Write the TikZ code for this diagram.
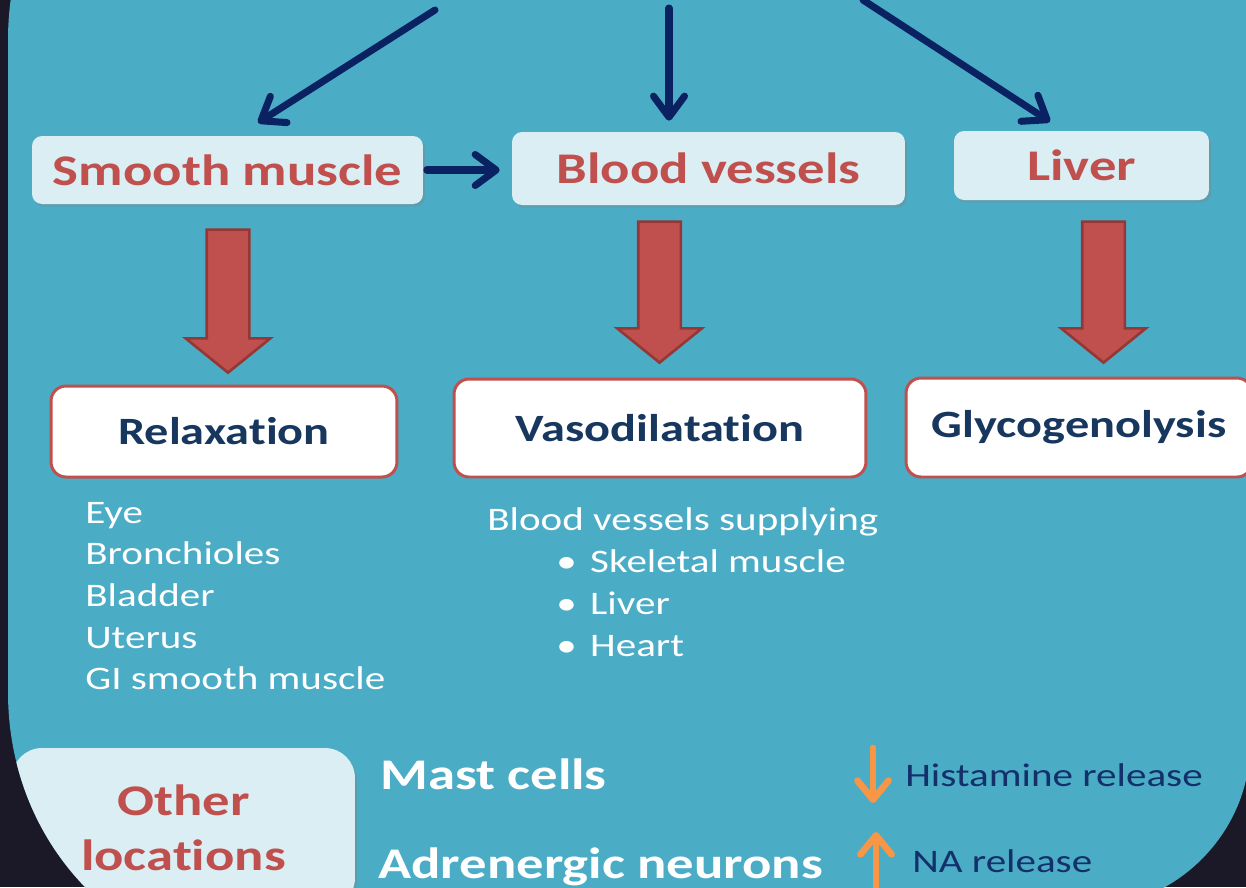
\documentclass[tikz,border=0pt]{standalone}
\usepackage{fontspec}
\setmainfont{Carlito}[FakeStretch=1.25, Ligatures=NoCommon]
\usetikzlibrary{arrows.meta, shapes.arrows, shadows}

\definecolor{slidebg}{HTML}{1B1828}
\definecolor{panelteal}{HTML}{4BACC6}
\definecolor{paleblue}{HTML}{DBEEF4}
\definecolor{brickred}{HTML}{C0504D}
\definecolor{brickdark}{HTML}{953735}
\definecolor{arrownavy}{HTML}{0B2262}
\definecolor{textnavy}{HTML}{17375E}
\definecolor{relnavy}{HTML}{13306B}
\definecolor{accorange}{HTML}{F79646}

\begin{document}
\begin{tikzpicture}[
    x=0.02cm, y=-0.02cm,
    every node/.style={font=\fontsize{18.7}{23.7}\selectfont},
    organbox/.style={
        rectangle, rounded corners=0.2cm,
        fill=paleblue, inner sep=0pt,
        drop shadow={shadow xshift=1.2pt, shadow yshift=-1.5pt, opacity=0.3},
        text=brickred, font=\fontsize{24.9}{31.3}\selectfont\bfseries
    },
    effectbox/.style={
        rectangle, rounded corners=0.3cm,
        fill=white, draw=brickred, line width=1.7pt, inner sep=0pt,
        text=textnavy, font=\fontsize{22}{26}\selectfont\bfseries
    },
    bigdown/.style={
        single arrow, shape border rotate=270, inner sep=0.4cm,
        minimum height=2.86cm,
        single arrow head extend=0.42cm, single arrow tip angle=102,
        fill=brickred, draw=brickdark, line width=1.5pt
    },
    navyarr/.style={
        draw=arrownavy, line width=4pt, line cap=round,
        -{Straight Barb[length=0.42cm, width=0.62cm, round]}
    },
    orangearr/.style={
        draw=accorange, line width=3.8pt, line cap=round,
        -{Straight Barb[length=0.38cm, width=0.62cm, round]}
    },
    listtext/.style={text=white, anchor=base west, inner sep=0pt},
    headtext/.style={text=white, anchor=base west, inner sep=0pt,
        font=\fontsize{24.9}{30}\selectfont\bfseries},
    reltext/.style={text=relnavy, anchor=base west, inner sep=0pt}
]

\useasboundingbox (0,0) rectangle (1246,887);
\fill[slidebg] (0,0) rectangle (1246,887);

\begin{scope}
\clip (8,-260) [rounded corners=6cm] -- (8,992) [rounded corners=3cm]
    -- (1250,895) [rounded corners=6cm] -- (1250,-260) -- cycle;
\fill[panelteal] (0,-300) rectangle (1300,1000);

%% target organs
\node[organbox, minimum width=7.82cm, minimum height=1.36cm]
    (smooth) at (227.5,170) {Smooth muscle};
\node[organbox, minimum width=7.86cm, minimum height=1.46cm]
    (blood) at (708.5,168.5) {Blood vessels};
\node[organbox, minimum width=5.1cm, minimum height=1.38cm]
    (liver) at (1081.5,165.5) {Liver};

%% arrows coming in from above
\coordinate (srcL) at (435,10);
\coordinate (srcM) at (669,8);
\coordinate (srcR) at (863,0);
\draw[navyarr] (srcL) -- ([shift={(30.5,-13)}]smooth.north);
\draw[navyarr] (srcM) -- ([shift={(-39.5,-11)}]blood.north);
\draw[navyarr] (srcR) -- ([shift={(-31.5,-9)}]liver.north);
\draw[navyarr, shorten <=2pt, shorten >=0.24cm]
    (smooth.east) -- (smooth.east -| blood.west);

%% effects
\node[bigdown] (downL) at (228,292.5) {};
\node[bigdown, minimum height=2.82cm] (downM) at (659.5,283.5) {};
\node[bigdown, minimum height=2.82cm] (downR) at (1103.5,283.5) {};

\node[effectbox, minimum width=6.92cm, minimum height=1.82cm]
    (relax) at (224,431.5) {Relaxation};
\node[effectbox, minimum width=8.24cm, minimum height=1.96cm]
    (vaso) at (660,428) {Vasodilatation};
\node[effectbox, minimum width=6.92cm, minimum height=1.98cm]
    (glyco) at (1079,427.5) {Glycogenolysis};

%% sites
\foreach \organ [count=\i] in {Eye, Bronchioles, Bladder, Uterus, GI smooth muscle}
    \node[listtext] (site\i) at (85,{523+41.7*(\i-1)}) {\organ};

\node[listtext] (supply) at (487,530) {Blood vessels supplying};
\foreach \bed [count=\i] in {Skeletal muscle, Liver, Heart}
    \node[listtext] (bed\i) at (556,{530+42*\i}) {\makebox[19.3pt][l]{•}\bed};

%% other locations
\node[organbox, minimum width=6.86cm, minimum height=3.2cm,
      rounded corners=0.6cm, align=center]
    (other) at (183.5,828) {Other\\locations};

\node[headtext] (mast) at (380,789) {Mast cells};
\node[headtext] (adren) at (378,878) {Adrenergic neurons};

\node[reltext] (hist) at (905,786) {Histamine release};
\node[reltext] (narel) at (912,872) {NA release};

\draw[orangearr] ([shift={(-32,-38)}]hist.base west)
    -- ([shift={(-32,17)}]hist.base west);
\draw[orangearr] ([shift={(-36,25)}]narel.base west)
    -- ([shift={(-36,-40)}]narel.base west);
\end{scope}

\end{tikzpicture}
\end{document}
